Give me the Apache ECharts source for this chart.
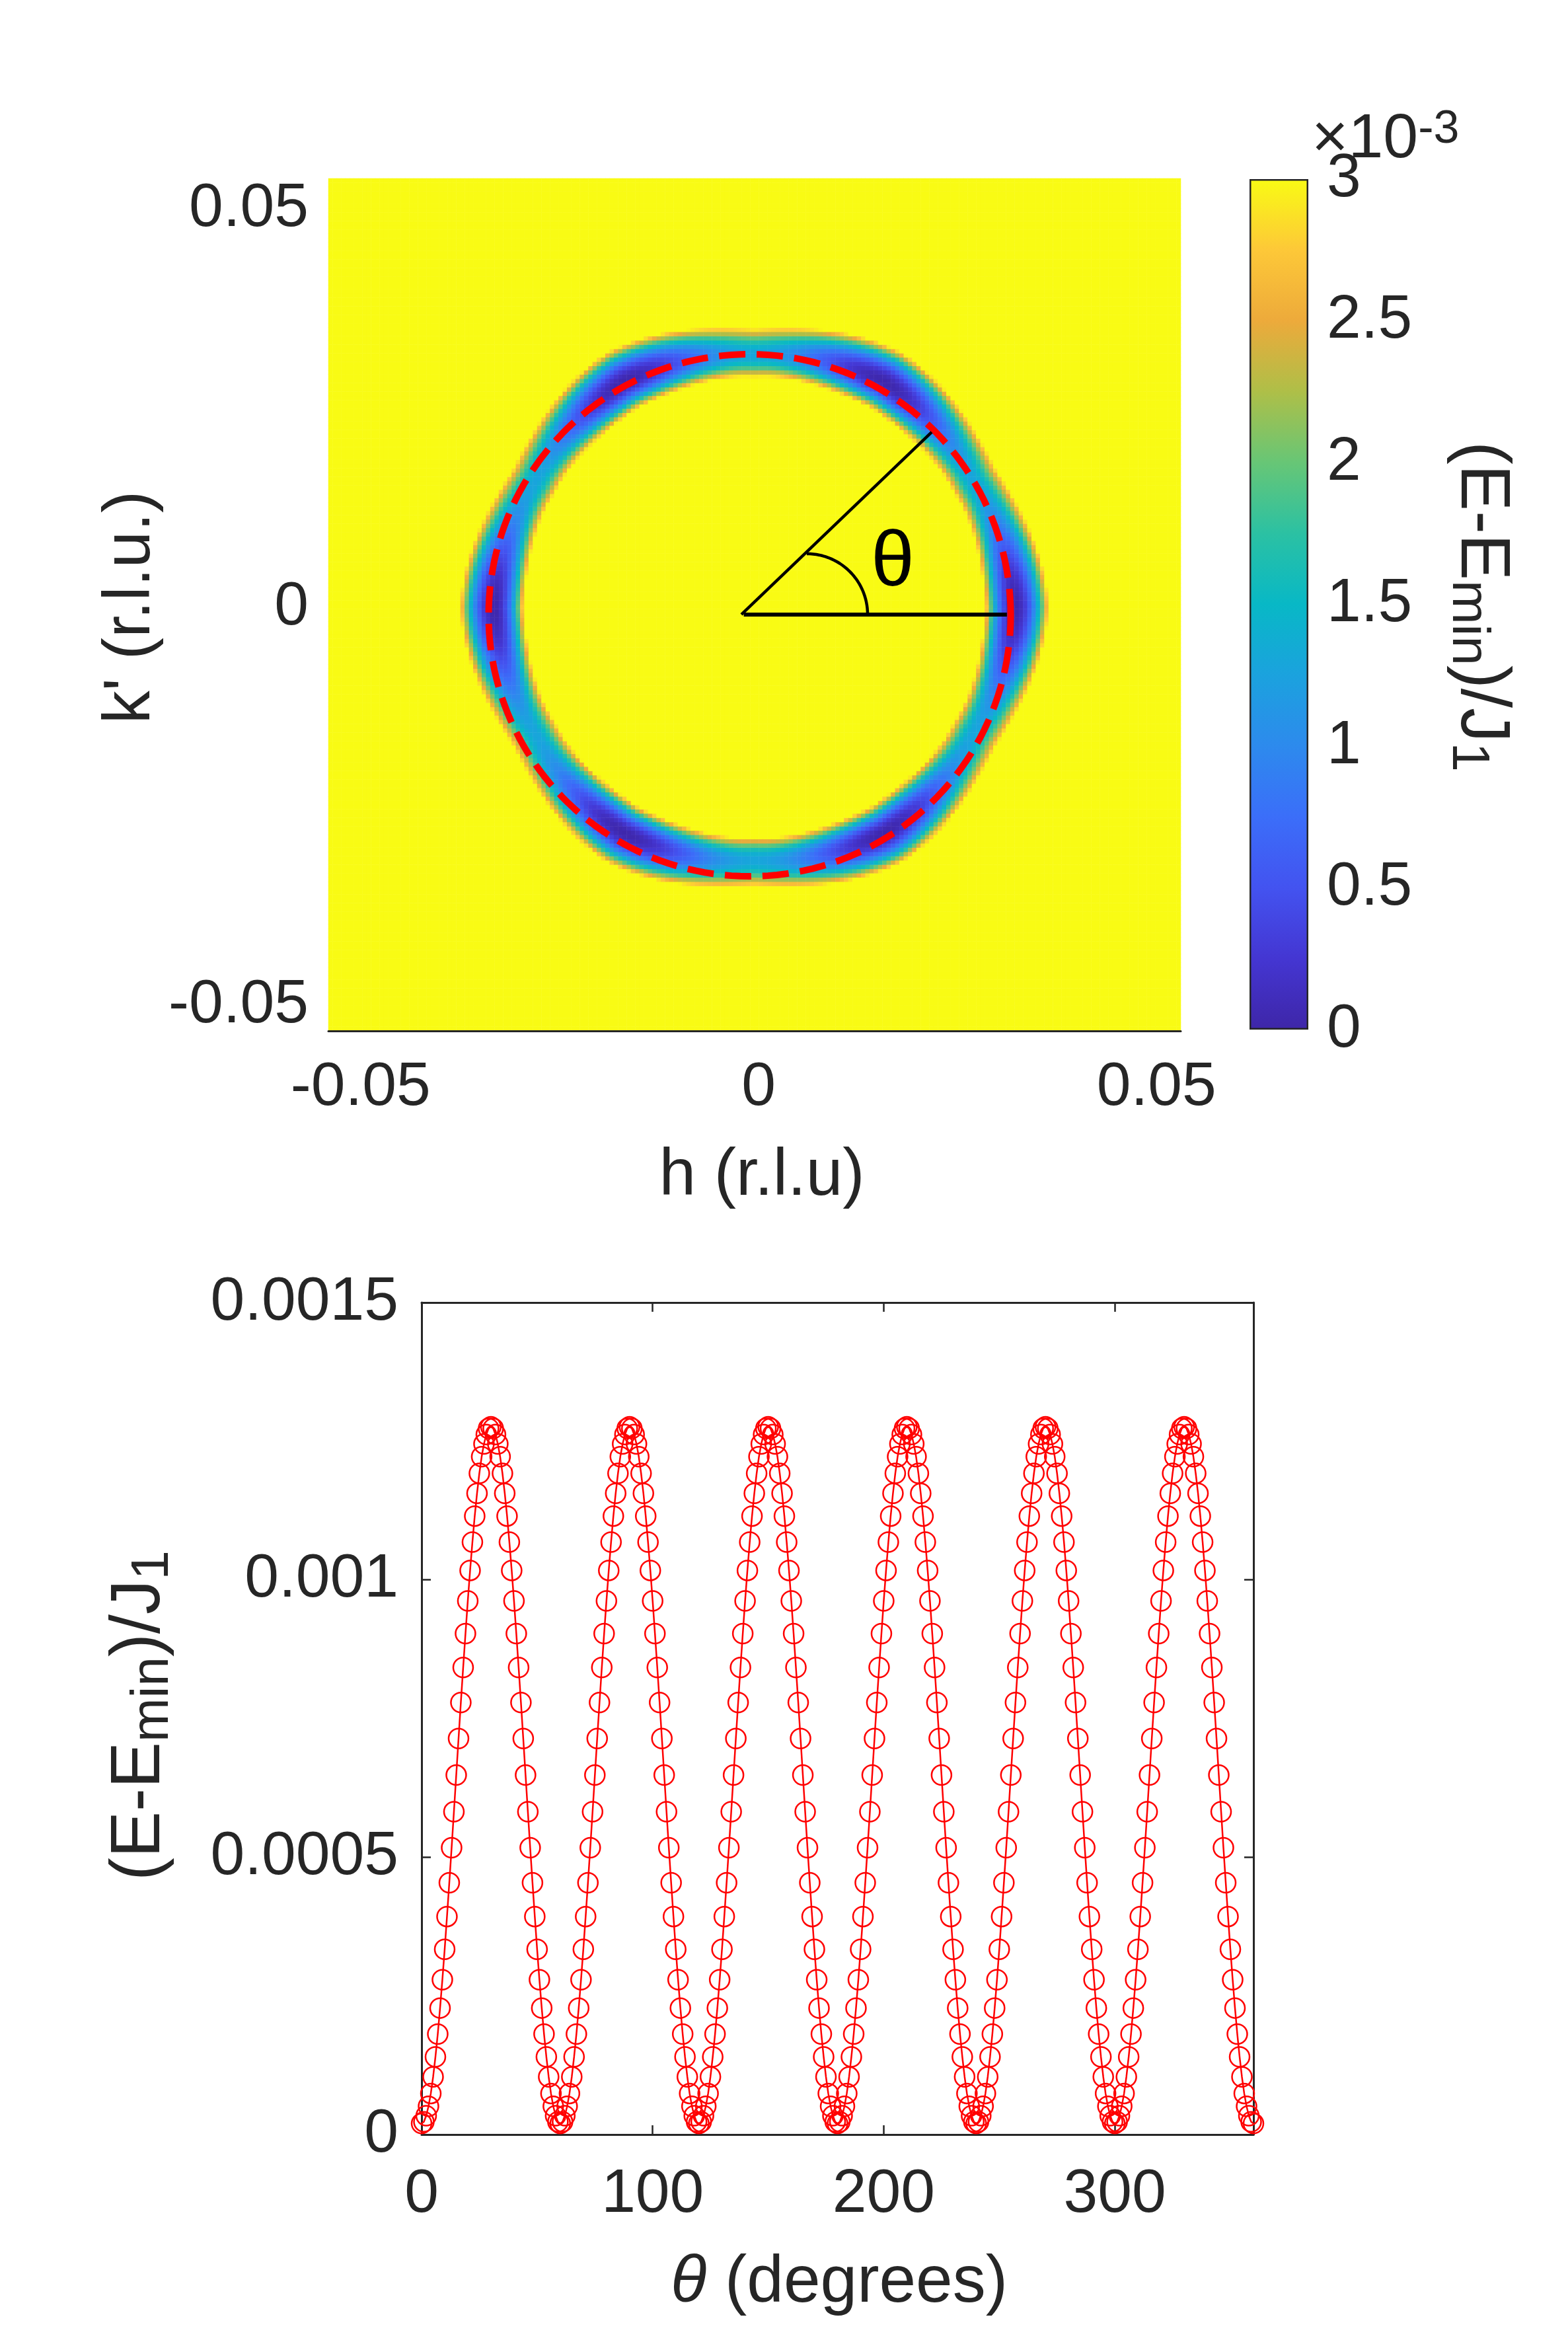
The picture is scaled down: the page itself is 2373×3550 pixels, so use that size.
<!DOCTYPE html>
<html>
<head>
<meta charset="utf-8">
<script src="https://cdn.jsdelivr.net/npm/echarts@6.0.0/dist/echarts.min.js"></script>
<style>
  html, body { margin: 0; padding: 0; background: #fff; }
  #chart { width: 2373px; height: 3550px; }
</style>
</head>
<body>
<div id="chart"></div>
<script>
// ---- lower panel: ring energy vs angle (1 degree steps)
const thetaDeg = [
  0,1,2,3,4,5,6,7,8,9,10,11,12,13,14,15,16,17,18,19,20,21,22,23,24,25,26,27,28,29,
  30,31,32,33,34,35,36,37,38,39,40,41,42,43,44,45,46,47,48,49,50,51,52,53,54,55,56,57,58,59,
  60,61,62,63,64,65,66,67,68,69,70,71,72,73,74,75,76,77,78,79,80,81,82,83,84,85,86,87,88,89,
  90,91,92,93,94,95,96,97,98,99,100,101,102,103,104,105,106,107,108,109,110,111,112,113,114,115,116,117,118,119,
  120,121,122,123,124,125,126,127,128,129,130,131,132,133,134,135,136,137,138,139,140,141,142,143,144,145,146,147,148,149,
  150,151,152,153,154,155,156,157,158,159,160,161,162,163,164,165,166,167,168,169,170,171,172,173,174,175,176,177,178,179,
  180,181,182,183,184,185,186,187,188,189,190,191,192,193,194,195,196,197,198,199,200,201,202,203,204,205,206,207,208,209,
  210,211,212,213,214,215,216,217,218,219,220,221,222,223,224,225,226,227,228,229,230,231,232,233,234,235,236,237,238,239,
  240,241,242,243,244,245,246,247,248,249,250,251,252,253,254,255,256,257,258,259,260,261,262,263,264,265,266,267,268,269,
  270,271,272,273,274,275,276,277,278,279,280,281,282,283,284,285,286,287,288,289,290,291,292,293,294,295,296,297,298,299,
  300,301,302,303,304,305,306,307,308,309,310,311,312,313,314,315,316,317,318,319,320,321,322,323,324,325,326,327,328,329,
  330,331,332,333,334,335,336,337,338,339,340,341,342,343,344,345,346,347,348,349,350,351,352,353,354,355,356,357,358,359,
  360
];
const energy = [
  0.000020,0.000023,0.000034,0.000051,0.000074,0.000104,0.000140,0.000181,0.000228,0.000279,0.000334,0.000393,0.000454,0.000517,0.000582,0.000648,0.000714,0.000779,0.000842,0.000903,0.000962,0.001017,0.001068,0.001115,0.001156,0.001192,0.001222,0.001245,0.001262,0.001273,
  0.001276,0.001273,0.001262,0.001245,0.001222,0.001192,0.001156,0.001115,0.001068,0.001017,0.000962,0.000903,0.000842,0.000779,0.000714,0.000648,0.000582,0.000517,0.000454,0.000393,0.000334,0.000279,0.000228,0.000181,0.000140,0.000104,0.000074,0.000051,0.000034,0.000023,
  0.000020,0.000023,0.000034,0.000051,0.000074,0.000104,0.000140,0.000181,0.000228,0.000279,0.000334,0.000393,0.000454,0.000517,0.000582,0.000648,0.000714,0.000779,0.000842,0.000903,0.000962,0.001017,0.001068,0.001115,0.001156,0.001192,0.001222,0.001245,0.001262,0.001273,
  0.001276,0.001273,0.001262,0.001245,0.001222,0.001192,0.001156,0.001115,0.001068,0.001017,0.000962,0.000903,0.000842,0.000779,0.000714,0.000648,0.000582,0.000517,0.000454,0.000393,0.000334,0.000279,0.000228,0.000181,0.000140,0.000104,0.000074,0.000051,0.000034,0.000023,
  0.000020,0.000023,0.000034,0.000051,0.000074,0.000104,0.000140,0.000181,0.000228,0.000279,0.000334,0.000393,0.000454,0.000517,0.000582,0.000648,0.000714,0.000779,0.000842,0.000903,0.000962,0.001017,0.001068,0.001115,0.001156,0.001192,0.001222,0.001245,0.001262,0.001273,
  0.001276,0.001273,0.001262,0.001245,0.001222,0.001192,0.001156,0.001115,0.001068,0.001017,0.000962,0.000903,0.000842,0.000779,0.000714,0.000648,0.000582,0.000517,0.000454,0.000393,0.000334,0.000279,0.000228,0.000181,0.000140,0.000104,0.000074,0.000051,0.000034,0.000023,
  0.000020,0.000023,0.000034,0.000051,0.000074,0.000104,0.000140,0.000181,0.000228,0.000279,0.000334,0.000393,0.000454,0.000517,0.000582,0.000648,0.000714,0.000779,0.000842,0.000903,0.000962,0.001017,0.001068,0.001115,0.001156,0.001192,0.001222,0.001245,0.001262,0.001273,
  0.001276,0.001273,0.001262,0.001245,0.001222,0.001192,0.001156,0.001115,0.001068,0.001017,0.000962,0.000903,0.000842,0.000779,0.000714,0.000648,0.000582,0.000517,0.000454,0.000393,0.000334,0.000279,0.000228,0.000181,0.000140,0.000104,0.000074,0.000051,0.000034,0.000023,
  0.000020,0.000023,0.000034,0.000051,0.000074,0.000104,0.000140,0.000181,0.000228,0.000279,0.000334,0.000393,0.000454,0.000517,0.000582,0.000648,0.000714,0.000779,0.000842,0.000903,0.000962,0.001017,0.001068,0.001115,0.001156,0.001192,0.001222,0.001245,0.001262,0.001273,
  0.001276,0.001273,0.001262,0.001245,0.001222,0.001192,0.001156,0.001115,0.001068,0.001017,0.000962,0.000903,0.000842,0.000779,0.000714,0.000648,0.000582,0.000517,0.000454,0.000393,0.000334,0.000279,0.000228,0.000181,0.000140,0.000104,0.000074,0.000051,0.000034,0.000023,
  0.000020,0.000023,0.000034,0.000051,0.000074,0.000104,0.000140,0.000181,0.000228,0.000279,0.000334,0.000393,0.000454,0.000517,0.000582,0.000648,0.000714,0.000779,0.000842,0.000903,0.000962,0.001017,0.001068,0.001115,0.001156,0.001192,0.001222,0.001245,0.001262,0.001273,
  0.001276,0.001273,0.001262,0.001245,0.001222,0.001192,0.001156,0.001115,0.001068,0.001017,0.000962,0.000903,0.000842,0.000779,0.000714,0.000648,0.000582,0.000517,0.000454,0.000393,0.000334,0.000279,0.000228,0.000181,0.000140,0.000104,0.000074,0.000051,0.000034,0.000023,
  0.000020
];

// ---- upper panel: energy map around the ring
const hRange = [-0.05405, 0.05305];
const kRange = [-0.05322, 0.05388];
const mapTicks = [-0.05, 0, 0.05];
const ringCenter = [-0.0005, 0.0];
// ring radius read every 30 degrees (0..360)
const ringRadius = [0.0327, 0.0317, 0.0327, 0.0317, 0.0327, 0.0317, 0.0327, 0.0317, 0.0327, 0.0317, 0.0327, 0.0317, 0.0327];
const bandWidthIn = 0.0037;   // distance inside the ring where the map reaches the colour limit
const bandWidthOut = 0.0043;  // same, outside the ring
const colorMax = 0.003;
const parula = ['#3e26a8', '#4436d2', '#4353f0', '#3b6ef9', '#2d8aed', '#1ba2de', '#08b8c6',
                '#2bc1a3', '#67c676', '#aebf48', '#edaa3b', '#fdc838', '#f9fb14'];

// dashed fit circle and the angle sketch
const fitCenter = [-0.00112, -0.0010];
const fitRadius = 0.0328;
const rayStart = [-0.00216, -0.00091];
const rayEnd = [0.02175, 0.0220];
const baseEnd = [0.0312, -0.00091];
const arcCenter = [0.00606, -0.00091];
const arcRadius = 0.00764;

const FONT = '"Liberation Sans", Arial, Helvetica, sans-serif';
const INK = '#262626';

// ---- build heatmap table
const N = 200;
const hCells = [], kCells = [];
for (let i = 0; i < N; i++) {
    hCells.push((hRange[0] + (i + 0.5) * (hRange[1] - hRange[0]) / N).toFixed(5));
    kCells.push((kRange[0] + (i + 0.5) * (kRange[1] - kRange[0]) / N).toFixed(5));
}
function ringEnergy(deg) {
    const d = ((deg % 360) + 360) % 360;
    const i = Math.floor(d), f = d - i;
    return energy[i] * (1 - f) + energy[Math.min(i + 1, 360)] * f;
}
function ringRadiusAt(deg) {
    const d = (((deg % 360) + 360) % 360) / 30;
    const i = Math.floor(d), f = d - i;
    return ringRadius[i] * (1 - f) + ringRadius[Math.min(i + 1, 12)] * f;
}
const mapData = [];
for (let i = 0; i < N; i++) {
    for (let j = 0; j < N; j++) {
        const dx = +hCells[i] - ringCenter[0];
        const dy = +kCells[j] - ringCenter[1];
        const r = Math.sqrt(dx * dx + dy * dy);
        const deg = Math.atan2(dy, dx) * 180 / Math.PI;
        const r0 = ringRadiusAt(deg);
        const w = r < r0 ? bandWidthIn : bandWidthOut;
        const e = ringEnergy(deg) + colorMax * Math.pow((r - r0) / w, 2);
        mapData.push([i, j, Math.min(e, colorMax)]);
    }
}

function circlePoints(c, rad, a0, a1, step) {
    const pts = [];
    for (let a = a0; a <= a1 + 1e-9; a += step) {
        const t = a * Math.PI / 180;
        pts.push([c[0] + rad * Math.cos(t), c[1] + rad * Math.sin(t)]);
    }
    return pts;
}

const curveData = thetaDeg.map((t, i) => [t, energy[i]]);

const chartDom = document.getElementById('chart');
const myChart = echarts.init(chartDom, null, { renderer: 'canvas' });

const labelStyle = { color: INK, fontSize: 93, fontFamily: FONT };
const boxLine = { show: true, onZero: false, lineStyle: { color: INK, width: 3 } };
const boxTick = { inside: true, length: 14, lineStyle: { color: INK, width: 2.5 } };

const option = {
    animation: false,
    backgroundColor: '#ffffff',
    grid: [
        { left: 497, top: 270, width: 1290, height: 1290 },
        { left: 638, top: 1971, width: 1259, height: 1259 },
        { left: 1891, top: 271, width: 89, height: 1287 }
    ],
    xAxis: [
        { type: 'category', gridIndex: 0, data: hCells, show: false },
        {
            type: 'value', gridIndex: 0, position: 'bottom', min: hRange[0], max: hRange[1], z: 10,
            axisLine: boxLine,
            axisTick: { show: false },
            splitLine: { show: false },
            axisLabel: Object.assign({ margin: 40, customValues: mapTicks }, labelStyle)
        },
        {
            type: 'value', gridIndex: 1, position: 'bottom', min: 0, max: 360, interval: 100,
            axisLine: boxLine, axisTick: boxTick,
            splitLine: { show: false },
            axisLabel: Object.assign({ margin: 45, showMaxLabel: false }, labelStyle)
        },
        {
            type: 'value', gridIndex: 1, position: 'top', min: 0, max: 360, interval: 100,
            axisLine: boxLine, axisTick: boxTick,
            splitLine: { show: false },
            axisLabel: { show: false }
        },
        { type: 'category', gridIndex: 2, data: ['cb'], show: false }
    ],
    yAxis: [
        { type: 'category', gridIndex: 0, data: kCells, show: false },
        {
            type: 'value', gridIndex: 0, position: 'left', min: kRange[0], max: kRange[1],
            axisLine: { show: false, onZero: false },
            axisTick: { show: false },
            splitLine: { show: false },
            axisLabel: Object.assign({ margin: 30, customValues: mapTicks }, labelStyle)
        },
        {
            type: 'value', gridIndex: 1, position: 'left', min: 0, max: 0.0015, interval: 0.0005,
            axisLine: boxLine, axisTick: boxTick,
            splitLine: { show: false },
            axisLabel: Object.assign({ margin: 35 }, labelStyle)
        },
        {
            type: 'value', gridIndex: 1, position: 'right', min: 0, max: 0.0015, interval: 0.0005,
            axisLine: boxLine, axisTick: boxTick,
            splitLine: { show: false },
            axisLabel: { show: false }
        },
        {
            type: 'value', gridIndex: 2, position: 'right', min: 0, max: 3, interval: 0.5, z: 10,
            axisLine: { show: false, onZero: false },
            axisTick: boxTick,
            splitLine: { show: false },
            axisLabel: Object.assign({ margin: 28 }, labelStyle)
        }
    ],
    visualMap: {
        type: 'continuous', show: false, seriesIndex: 0, dimension: 2,
        min: 0, max: colorMax, inRange: { color: parula }
    },
    series: [
        {
            type: 'heatmap', xAxisIndex: 0, yAxisIndex: 0, data: mapData,
            progressive: 0, emphasis: { disabled: true }
        },
        {
            type: 'line', xAxisIndex: 1, yAxisIndex: 1, showSymbol: false, silent: true,
            data: circlePoints(fitCenter, fitRadius, 0, 360, 2),
            lineStyle: { color: '#ff0000', width: 10, type: [40, 17], cap: 'butt' }, z: 5
        },
        {
            type: 'line', xAxisIndex: 1, yAxisIndex: 1, showSymbol: false, silent: true,
            data: [rayStart, rayEnd],
            lineStyle: { color: '#000000', width: 4.5 }, z: 6
        },
        {
            type: 'line', xAxisIndex: 1, yAxisIndex: 1, showSymbol: false, silent: true,
            data: [[rayStart[0] + 0.0003, rayStart[1]], baseEnd],
            lineStyle: { color: '#000000', width: 6 }, z: 6
        },
        {
            type: 'line', xAxisIndex: 1, yAxisIndex: 1, showSymbol: false, silent: true,
            data: circlePoints(arcCenter, arcRadius, 0, 90, 3),
            lineStyle: { color: '#000000', width: 4.5 }, z: 6
        },
        {
            type: 'line', xAxisIndex: 2, yAxisIndex: 2, data: curveData, clip: false,
            symbol: 'circle', symbolSize: 30, showSymbol: true, showAllSymbol: true,
            itemStyle: { color: 'rgba(0,0,0,0)', borderColor: '#ff0000', borderWidth: 2.5 },
            lineStyle: { color: '#ff0000', width: 2.5 }
        },
        {
            type: 'bar', xAxisIndex: 4, yAxisIndex: 4, barWidth: '100%', silent: true,
            data: [colorMax * 1000],
            itemStyle: {
                color: {
                    type: 'linear', x: 0, y: 1, x2: 0, y2: 0,
                    colorStops: parula.map((c, i) => ({ offset: i / (parula.length - 1), color: c }))
                },
                borderColor: INK, borderWidth: 2.5
            }
        }
    ],
    graphic: [
        {   // k' axis title
            type: 'text', x: 198, y: 919, rotation: Math.PI / 2,
            style: { text: "k' (r.l.u.)", fill: INK, fontSize: 100, fontFamily: FONT, align: 'center', verticalAlign: 'middle' }
        },
        {
            type: 'text', x: 1153, y: 1780,
            style: { text: 'h (r.l.u)', fill: INK, fontSize: 100, fontFamily: FONT, align: 'center', verticalAlign: 'middle' }
        },
        {   // theta marker in the map
            type: 'text', x: 1351, y: 853, z: 20,
            style: { text: 'θ', fill: '#000', fontSize: 118, fontFamily: FONT, align: 'center', verticalAlign: 'middle' }
        },
        {   // colorbar exponent
            type: 'text', x: 1985, y: 212,
            style: {
                text: '{m|×10}{p|-3}', align: 'left', verticalAlign: 'middle',
                rich: {
                    m: { fontSize: 95, lineHeight: 100, fontFamily: FONT, fill: INK },
                    p: { fontSize: 70, lineHeight: 24, verticalAlign: 'top', fontFamily: FONT, fill: INK }
                }
            }
        },
        {   // colorbar title
            type: 'text', x: 2241, y: 918, rotation: -Math.PI / 2,
            style: {
                text: '{m|(E-E}{s|min}{m|)/J}{s|1}', align: 'center', verticalAlign: 'middle',
                rich: {
                    m: { fontSize: 105, lineHeight: 120, fontFamily: FONT, fill: INK },
                    s: { fontSize: 80, lineHeight: 10, verticalAlign: 'bottom', fontFamily: FONT, fill: INK }
                }
            }
        },
        {   // lower panel y title
            type: 'text', x: 212, y: 2596, rotation: Math.PI / 2,
            style: {
                text: '{m|(E-E}{s|min}{m|)/J}{s|1}', align: 'center', verticalAlign: 'middle',
                rich: {
                    m: { fontSize: 105, lineHeight: 120, fontFamily: FONT, fill: INK },
                    s: { fontSize: 80, lineHeight: 10, verticalAlign: 'bottom', fontFamily: FONT, fill: INK }
                }
            }
        },
        {   // lower panel x title
            type: 'text', x: 1270, y: 3455,
            style: {
                text: '{i|θ}{m| (degrees)}', align: 'center', verticalAlign: 'middle',
                rich: {
                    i: { fontSize: 100, fontStyle: 'italic', fontFamily: FONT, fill: INK },
                    m: { fontSize: 100, fontFamily: FONT, fill: INK }
                }
            }
        }
    ]
};

option && myChart.setOption(option);
</script>
</body>
</html>
